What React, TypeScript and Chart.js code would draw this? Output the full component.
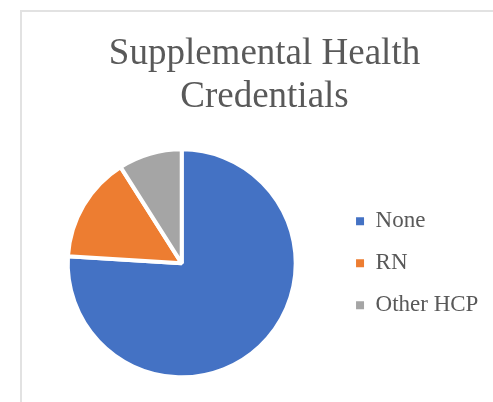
import React, { useEffect, useRef } from "react";
import { Chart, registerables, layouts } from "chart.js";

Chart.register(...registerables);

const titleLines = ["Supplemental Health", "Credentials"];
const categories = ["None", "RN", "Other HCP"];
const shares = [76, 15, 9];
const sliceColors = ["#4472C4", "#ED7D31", "#A5A5A5"];

const TEXT_COLOR = "#595959";
const SERIF = "'Liberation Serif', 'Times New Roman', serif";
const LEGEND_GAP = 14.2;

// An empty layout box that sits between the pie and the legend.
const legendGapPlugin = {
  id: "legendGap",
  beforeInit(chart: any) {
    const box: any = {
      position: "right",
      weight: 500,
      fullSize: false,
      options: { display: false },
      left: 0,
      top: 0,
      right: 0,
      bottom: 0,
      width: 0,
      height: 0,
      isHorizontal: () => false,
      update(_maxWidth: number, maxHeight: number) {
        box.width = LEGEND_GAP;
        box.height = maxHeight;
      },
      draw() {},
    };
    layouts.addBox(chart, box);
  },
};

export default function App() {
  const canvasRef = useRef<HTMLCanvasElement | null>(null);

  useEffect(() => {
    const canvas = canvasRef.current;
    if (!canvas) return;
    const chart = new Chart(canvas, {
      type: "pie",
      data: {
        labels: categories,
        datasets: [
          {
            data: shares,
            backgroundColor: sliceColors,
            borderColor: "#ffffff",
            borderWidth: 4,
          },
        ],
      },
      plugins: [legendGapPlugin],
      options: {
        responsive: false,
        animation: false,
        devicePixelRatio: 1,
        layout: { padding: { left: 19.6, right: 19.6, top: 0, bottom: 22.7 } },
        plugins: {
          tooltip: { enabled: false },
          title: {
            display: true,
            text: titleLines,
            color: TEXT_COLOR,
            font: { family: SERIF, size: 37, weight: "normal", lineHeight: 1.16 },
            padding: { top: 22.5, bottom: 29 },
          },
          legend: {
            display: true,
            position: "right",
            fullSize: false,
            labels: {
              boxWidth: 8,
              boxHeight: 8,
              padding: 19,
              color: TEXT_COLOR,
              font: { family: SERIF, size: 23 },
              generateLabels: (c: any) =>
                (c.data.labels as string[]).map((label: string, i: number) => ({
                  text: label,
                  fillStyle: sliceColors[i],
                  strokeStyle: sliceColors[i],
                  lineWidth: 0,
                  fontColor: TEXT_COLOR,
                  hidden: false,
                  index: i,
                })),
            },
          },
        },
      },
    });
    return () => chart.destroy();
  }, []);

  return (
    <div
      style={{
        position: "fixed",
        left: 0,
        top: 0,
        width: 493,
        height: 402,
        overflow: "hidden",
        background: "#ffffff",
      }}
    >
      <div
        style={{
          position: "absolute",
          left: 20,
          top: 10,
          width: 500,
          height: 420,
          borderLeft: "2px solid #e2e2e2",
          borderTop: "2px solid #e2e2e2",
        }}
      />
      <canvas
        ref={canvasRef}
        width={487}
        height={392}
        style={{ position: "absolute", left: 21, top: 10, width: 487, height: 392 }}
      />
    </div>
  );
}
